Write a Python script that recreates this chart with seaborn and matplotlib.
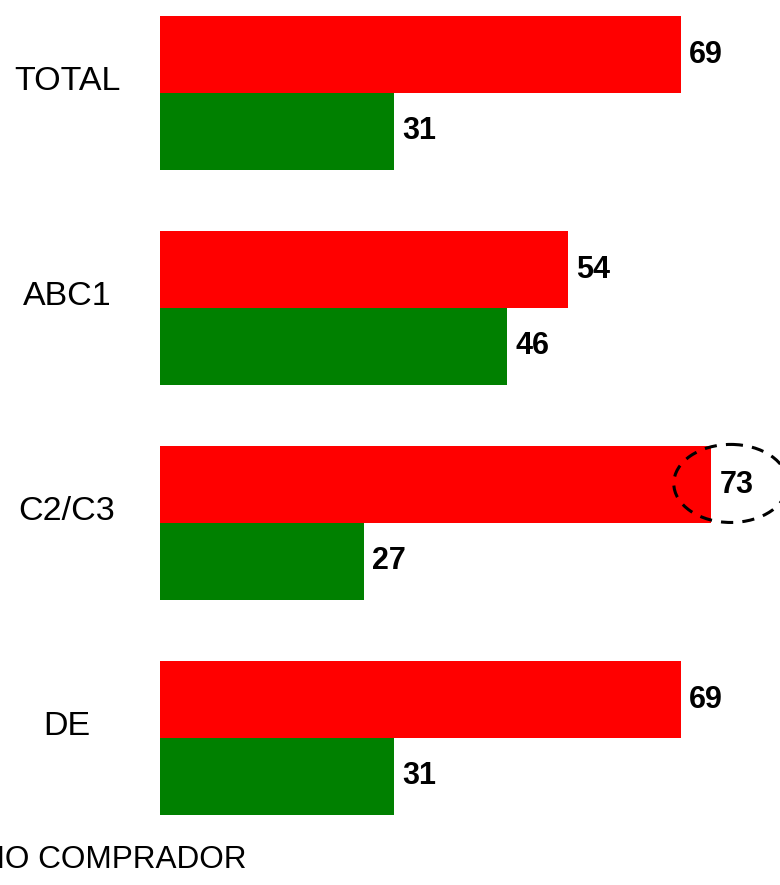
import matplotlib
matplotlib.use("Agg")
import matplotlib.pyplot as plt
import matplotlib.transforms as mtransforms
from matplotlib.patches import Ellipse
import pandas as pd
import seaborn as sns

sns.set_style("white")
plt.rcParams['font.family'] = ['Liberation Sans', 'DejaVu Sans']
plt.rcParams['text.color'] = 'black'
plt.rcParams['ytick.color'] = 'black'

# segment data (% compradores / no compradores)
segments = ['TOTAL', 'ABC1', 'C2/C3', 'DE']
comprador = [69, 54, 73, 69]
no_comprador = [31, 46, 27, 31]

df = pd.DataFrame({
    'segmento': segments * 2,
    'valor': comprador + no_comprador,
    'grupo': ['COMPRADOR'] * len(segments) + ['NO COMPRADOR'] * len(segments),
})

fig = plt.figure(figsize=(7.8, 8.85), dpi=100)
ax = fig.add_axes([160 / 780, 0, 620 / 780, 1])

sns.barplot(data=df, y='segmento', x='valor', hue='grupo', order=segments,
            hue_order=['COMPRADOR', 'NO COMPRADOR'],
            palette=['#ff0000', '#008000'], orient='h', width=0.716,
            saturation=1, legend=False, linewidth=0, ax=ax)

for cont in ax.containers:
    ax.bar_label(cont, fmt='%d', padding=6, fontsize=22, fontweight='bold',
                 color='black')

ax.set_xlim(0, 620 / 7.55)
ax.set_ylim((885 - 93) / 215, -93 / 215)
ax.set_xlabel('')
ax.set_ylabel('')
ax.set_xticks([])
sns.despine(ax=ax, left=True, bottom=True)
ax.tick_params(axis='y', length=0, pad=67, labelsize=24.5, labelcolor='black')
shift = mtransforms.ScaledTranslation(0, 0.15, fig.dpi_scale_trans)
for lab in ax.get_yticklabels():
    lab.set_horizontalalignment('center')
    lab.set_transform(lab.get_transform() + shift)

# highlight the C2/C3 buyers value
ax.add_patch(Ellipse((75.6, 2 - 0.184), 15.1, 0.363, fill=False,
                     edgecolor='black', linestyle=(0, (4, 3)), linewidth=2.2,
                     clip_on=False))

# legend text, partly cut at the left edge as in the original slide
fig.text(247 / 780, 1 - 860 / 885, 'NO COMPRADOR', ha='right', va='center',
         fontsize=22.7, color='black')

fig.savefig('out.png', dpi=100)
